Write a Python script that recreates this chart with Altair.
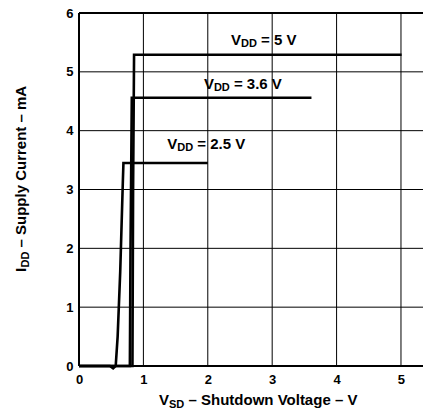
import altair as alt
import pandas as pd

# Curves (x: shutdown voltage V, y: supply current mA)
x_25 = [0, 0.48, 0.53, 0.57, 0.60, 0.64, 0.68, 0.69, 2.0]
y_25 = [0, 0, -0.04, 0, 0.5, 1.6, 3.1, 3.45, 3.45]
x_36 = [0, 0.79, 0.80, 0.82, 3.61]
y_36 = [0, 0, 2.0, 4.56, 4.56]
x_5 = [0, 0.83, 0.84, 0.855, 5.01]
y_5 = [0, 0, 3.0, 5.29, 5.29]

series_names = ["2.5", "3.6", "5"]

# Annotation labels
label_x = [2.36, 1.94, 1.37]
label_y = [5.458, 4.71, 3.69]
label_main = ["V", "V", "V"]
label_sub = ["DD", "DD", "DD"]
label_rest = ["= 5 V", "= 3.6 V", "= 2.5 V"]

x_ticks = [0, 1, 2, 3, 4, 5]
y_ticks = [0, 1, 2, 3, 4, 5, 6]

FONT = "Liberation Sans"

rows = []
for name, xs, ys in zip(series_names, [x_25, x_36, x_5], [y_25, y_36, y_5]):
    for i, (xv, yv) in enumerate(zip(xs, ys)):
        rows.append({"series": name, "i": i, "x": xv, "y": yv})
df = pd.DataFrame(rows)

lab = pd.DataFrame({"x": label_x, "y": label_y, "main": label_main,
                    "sub": label_sub, "rest": label_rest})
gx = pd.DataFrame({"x": x_ticks})
gy = pd.DataFrame({"y": y_ticks})
top = pd.DataFrame({"y": [max(y_ticks)]})

xscale = alt.Scale(domain=[0, 5.342], nice=False, zero=False)
yscale = alt.Scale(domain=[0, 6], nice=False)

common_axis = dict(title=None, grid=False, ticks=False, domain=False,
                   labelFont=FONT, labelFontSize=13, labelFontWeight="bold",
                   labelColor="black", labelFlush=False, format="d")
xaxis = alt.Axis(values=x_ticks, labelPadding=7, **common_axis)
yaxis = alt.Axis(values=y_ticks, labelPadding=6, **common_axis)

X = alt.X("x:Q", scale=xscale, axis=xaxis)
Y = alt.Y("y:Q", scale=yscale, axis=yaxis)

grid_x = alt.Chart(gx).mark_rule(color="black", strokeWidth=1).encode(x=X)
grid_y = alt.Chart(gy).mark_rule(color="black", strokeWidth=1).encode(y=Y)
top_border = alt.Chart(top).mark_rule(color="black", strokeWidth=2).encode(y=Y)
left_border = alt.Chart(gx[gx.x == 0]).mark_rule(color="black", strokeWidth=2).encode(x=X)
bottom_border = alt.Chart(gy[gy.y == 0]).mark_rule(color="black", strokeWidth=2).encode(y=Y)

lines = alt.Chart(df).mark_line(color="black", strokeWidth=2.6).encode(
    x=X, y=Y, detail="series:N", order="i:Q",
)

base_lab = alt.Chart(lab).encode(x=X, y=Y)
t_main = base_lab.mark_text(align="left", baseline="alphabetic", font=FONT,
                            fontSize=15, fontWeight="bold", color="black").encode(text="main:N")
t_sub = base_lab.mark_text(align="left", baseline="alphabetic", font=FONT,
                           fontSize=11, fontWeight="bold", color="black",
                           dx=10, dy=2.5).encode(text="sub:N")
t_rest = base_lab.mark_text(align="left", baseline="alphabetic", font=FONT,
                            fontSize=15, fontWeight="bold", color="black",
                            dx=30).encode(text="rest:N")

# Axis titles with subscripts
def title_piece(text, size, px, py, dx=0, dy=0, angle=0):
    return alt.Chart(top).mark_text(
        align="left", baseline="alphabetic", font=FONT, fontSize=size,
        fontWeight="bold", color="black", text=text, dx=dx, dy=dy, angle=angle,
    ).encode(x=alt.value(px), y=alt.value(py))

xt_main = title_piece("V", 15, 80, 392)
xt_sub = title_piece("SD", 11, 80, 392, dx=10, dy=2.5)
xt_rest = title_piece("– Shutdown Voltage – V", 15, 80, 392, dx=29.5)

yt_main = title_piece("I", 15, -53, 259, angle=270)
yt_sub = title_piece("DD", 11, -53, 259, dx=4.5, dy=2.5, angle=270)
yt_rest = title_piece("– Supply Current – mA", 15, -53, 259, dx=24.5, angle=270)

chart = alt.layer(
    grid_x, grid_y, left_border, bottom_border, top_border, lines,
    t_main, t_sub, t_rest,
    xt_main, xt_sub, xt_rest, yt_main, yt_sub, yt_rest,
).properties(
    width=344, height=353,
    autosize=alt.AutoSizeParams(type="none"),
    padding={"left": 71, "top": 5, "right": 0, "bottom": 43},
    background="white",
).configure_view(stroke=None)

chart.save("out.html", embed_options={"renderer": "svg", "actions": False})
